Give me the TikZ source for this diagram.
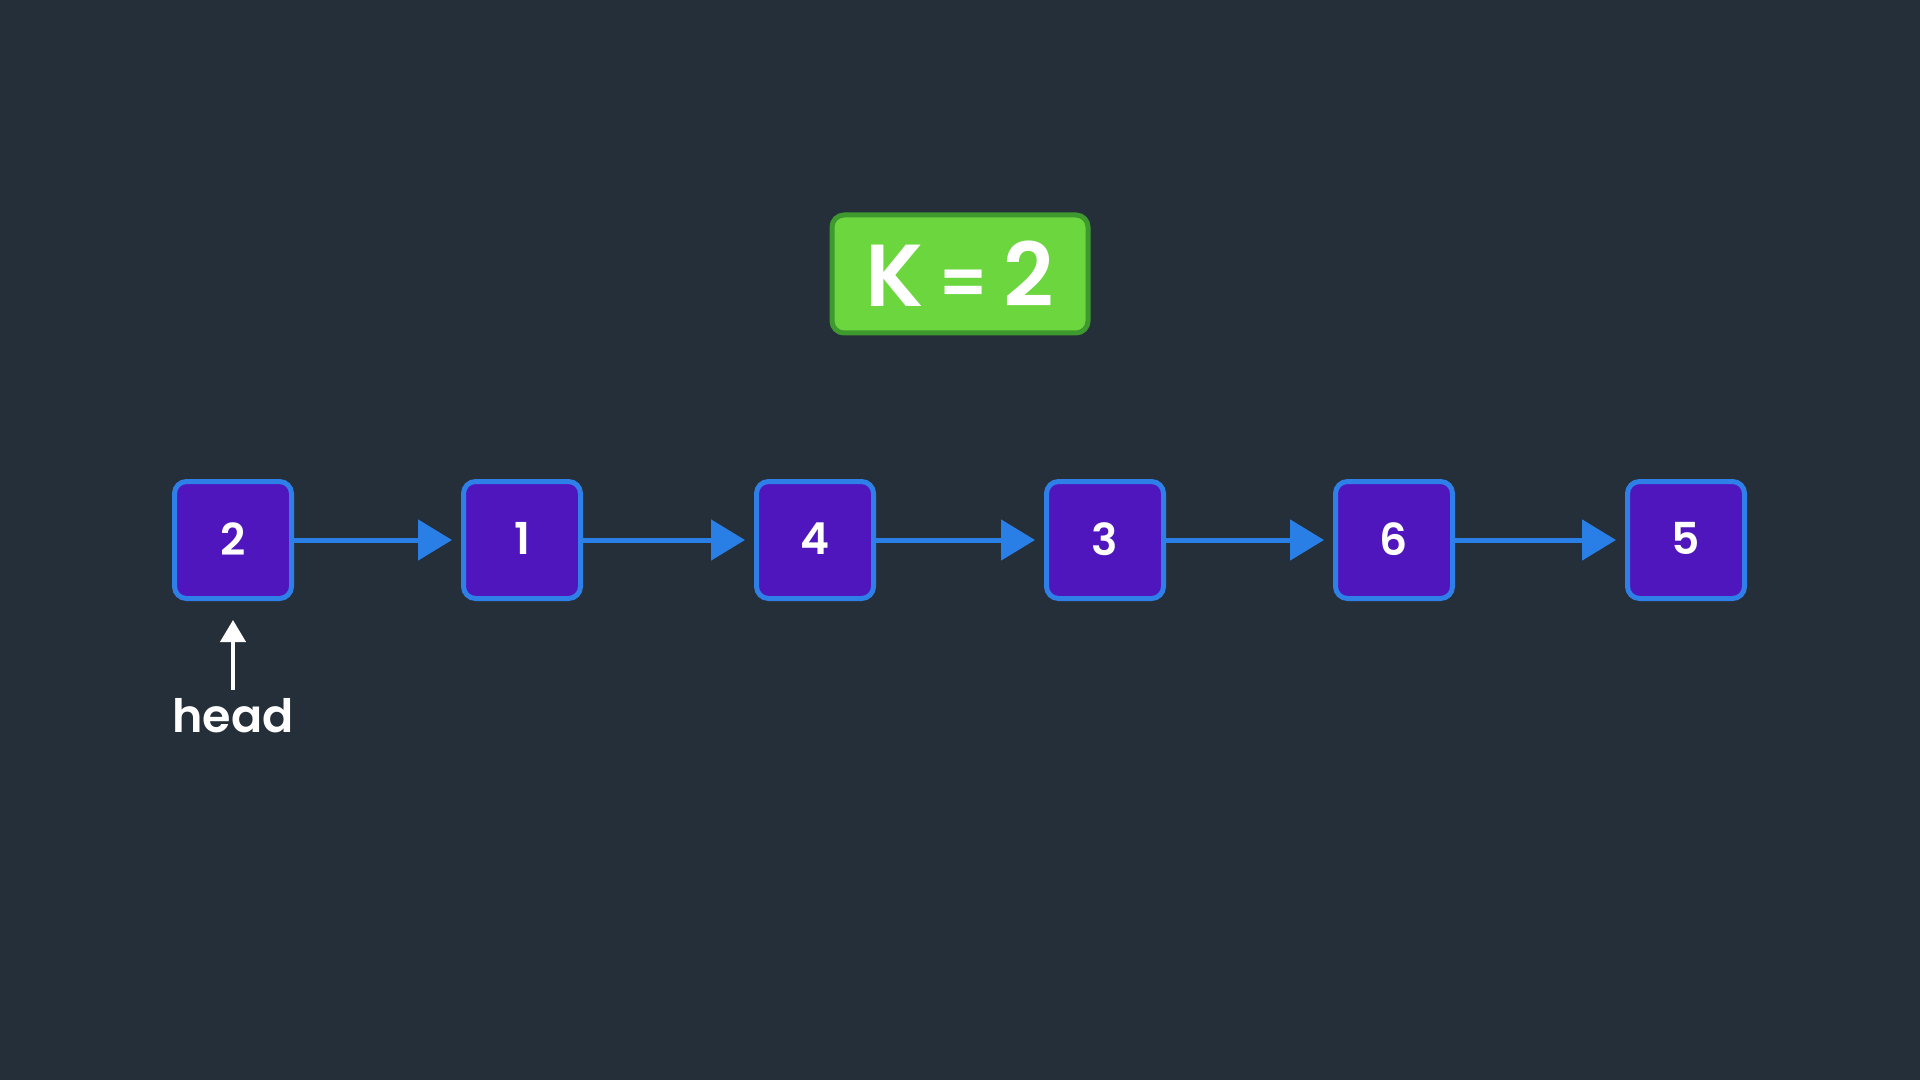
\documentclass[tikz,border=0pt]{standalone}
\usepackage{fontspec}
\setmainfont{Poppins}[BoldFont={Poppins SemiBold}]
\usetikzlibrary{arrows.meta}
\definecolor{bg}{HTML}{252F39}
\definecolor{nodefill}{HTML}{5016BD}
\definecolor{nodeedge}{HTML}{2E80E8}
\definecolor{linkblue}{HTML}{2A7FE6}
\definecolor{kfill}{HTML}{6BD63E}
\definecolor{kedge}{HTML}{3E9A2E}
\tikzset{
  listnode/.style={draw=nodeedge, fill=nodefill, line width=2.5pt, rounded corners=6pt,
    minimum width=58.5pt, minimum height=58.5pt, inner sep=0pt, text=white,
    font=\fontsize{22}{24}\selectfont\bfseries},
  link/.style={draw=linkblue, line width=2.5pt, shorten >=4.5pt,
    -{Triangle[length=17pt,width=20pt]}},
  kbox/.style={draw=kedge, fill=kfill, line width=2.5pt, rounded corners=6pt,
    minimum width=128pt, minimum height=59pt, inner sep=0pt, text=white,
    font=\fontsize{44}{50}\selectfont\bfseries},
  pointer/.style={draw=white, line width=2pt, -{Triangle[length=11pt,width=12.5pt]}}
}
\newcommand{\val}[1]{\raisebox{1.2pt}{#1}}
\begin{document}
\begin{tikzpicture}[x=0.5pt,y=-0.5pt]
  \fill[bg] (0,0) rectangle (1920,1080);
  \useasboundingbox (0,0) rectangle (1920,1080);

  \node[kbox] (k) at (960,274) {K\,{\fontsize{34}{40}\selectfont=}\,2};

  \node[listnode] (n1) at (233,540) {\val{2}};
  \node[listnode] (n2) at (522,540) {\val{1}};
  \node[listnode] (n3) at (815,540) {\val{4}};
  \node[listnode] (n4) at (1105,540) {\val{3}};
  \node[listnode] (n5) at (1394,540) {\val{6}};
  \node[listnode] (n6) at (1686,540) {\val{5}};

  \draw[link] (n1) -- (n2);
  \draw[link] (n2) -- (n3);
  \draw[link] (n3) -- (n4);
  \draw[link] (n4) -- (n5);
  \draw[link] (n5) -- (n6);

  \node[anchor=base, text=white, font=\fontsize{23}{26}\selectfont\bfseries, inner sep=0pt]
    (head) at (233,732) {head};
  \coordinate (ptr) at (233,620);
  \draw[pointer] ([yshift=4pt]head.north) -- (ptr);
\end{tikzpicture}
\end{document}
